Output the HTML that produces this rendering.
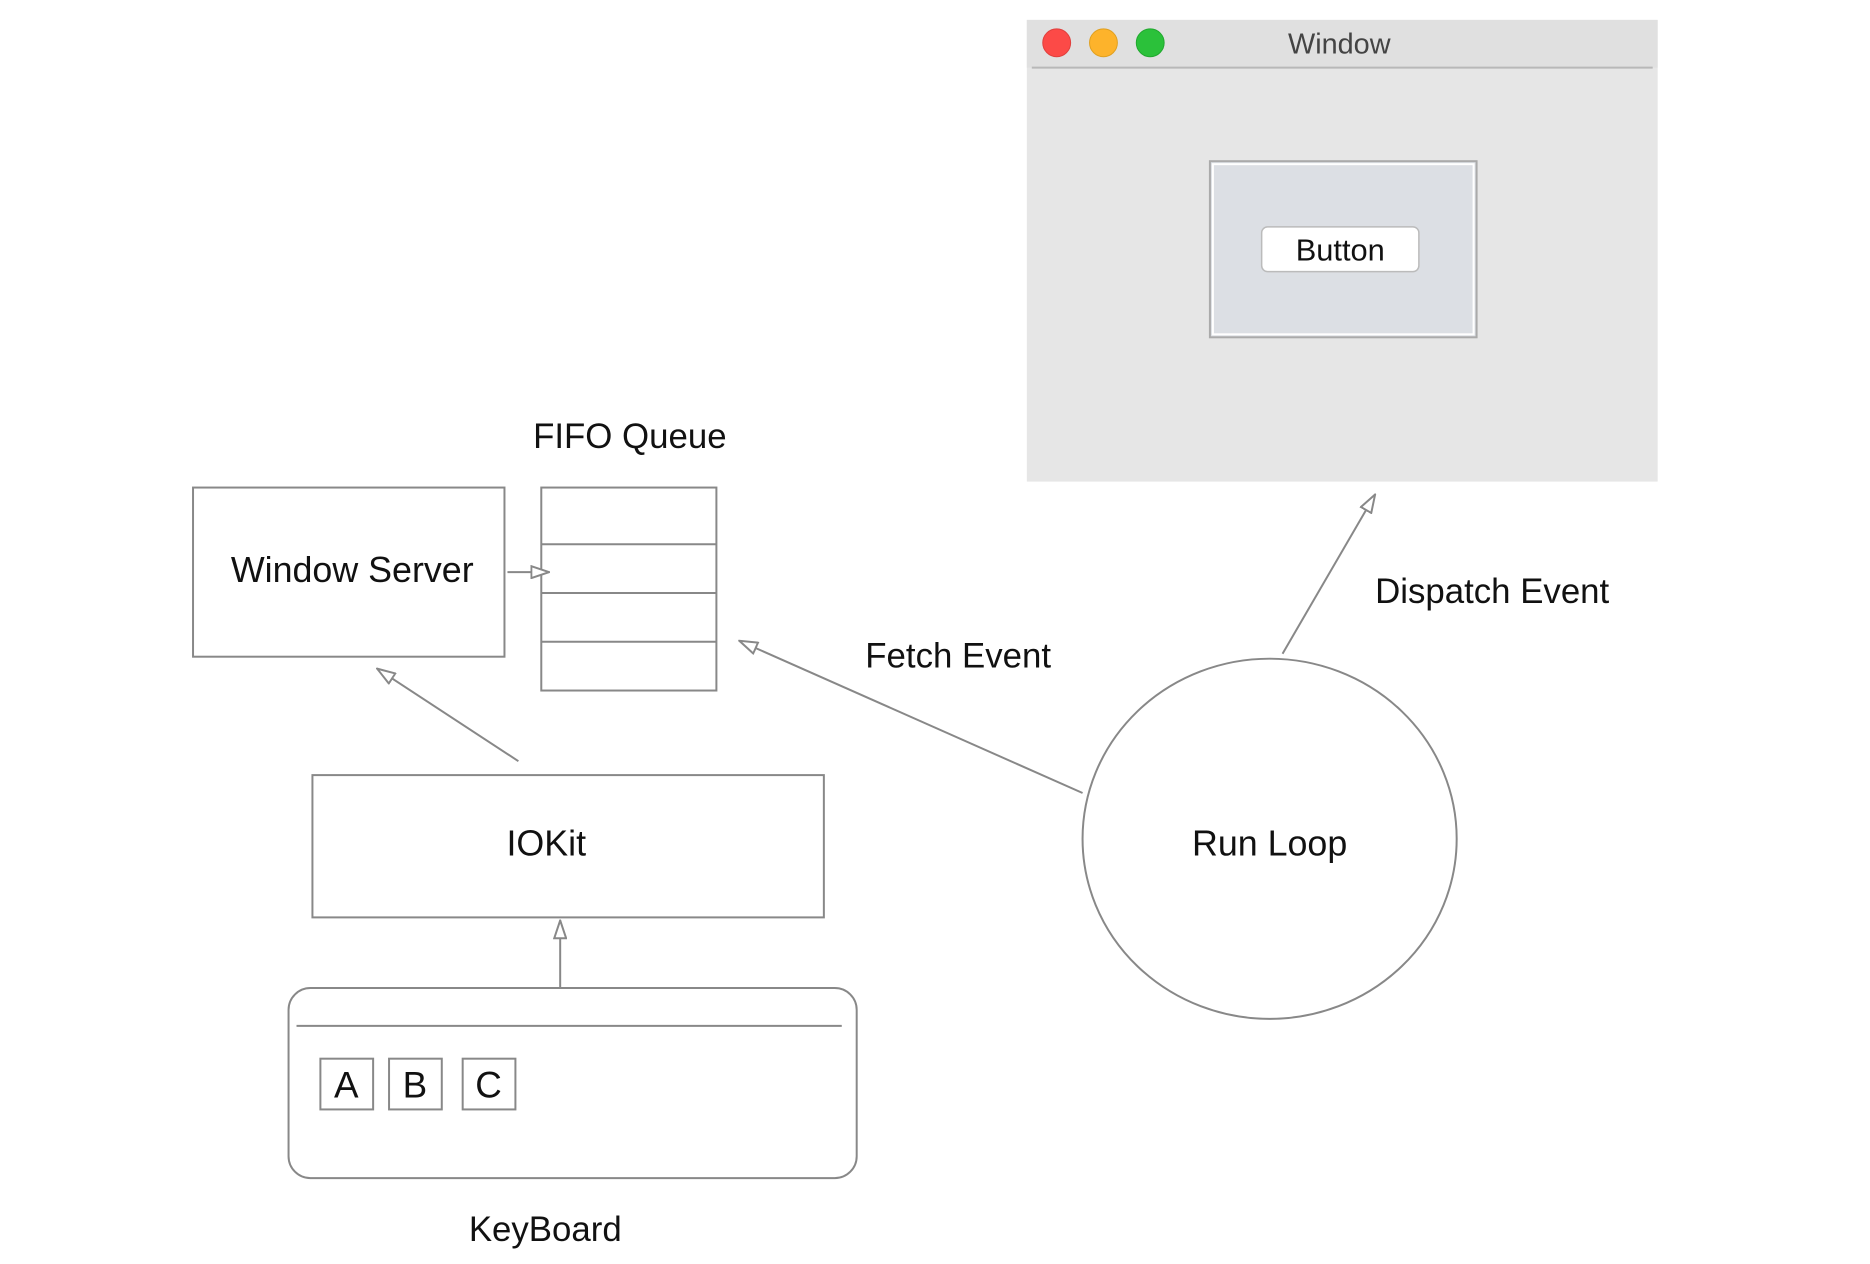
<!DOCTYPE html>
<html><head><meta charset="utf-8"><style>
html,body{margin:0;padding:0;background:#fff;}
svg{display:block;}
text{font-family:"Liberation Sans",Arial,sans-serif;fill:#111;}
</style></head><body>
<svg width="1870" height="1264" viewBox="0 0 1870 1264" xmlns="http://www.w3.org/2000/svg">
<defs>
<marker id="ah" viewBox="0 0 20 14" refX="19" refY="7" markerWidth="20" markerHeight="14" markerUnits="userSpaceOnUse" orient="auto">
<path d="M1,1 L19,7 L1,13 Z" fill="#fff" stroke="#888" stroke-width="2"/>
</marker>
</defs>
<g transform="scale(0.995)">
<!-- Window -->
<rect x="1032" y="20" width="634" height="464" fill="#e6e6e6"/>
<rect x="1032" y="20" width="634" height="48" fill="#e0e0e0"/>
<line x1="1037" y1="68" x2="1661" y2="68" stroke="#b8b8b8" stroke-width="2"/>
<ellipse cx="1062" cy="43" rx="14" ry="14" fill="#fc4a47" stroke="#e0403d"/>
<ellipse cx="1109" cy="43" rx="14" ry="14" fill="#fdb32b" stroke="#e0a020"/>
<ellipse cx="1156" cy="43" rx="14" ry="14" fill="#2bc13a" stroke="#20a82e"/>
<text x="1346" y="54" font-size="29" text-anchor="middle" style="fill:#444">Window</text>
<rect x="1216" y="162" width="268" height="177" fill="#dcdfe4" stroke="#aaa" stroke-width="2"/>
<rect x="1219" y="165" width="262" height="171" fill="none" stroke="#fff" stroke-width="2"/>
<rect x="1268" y="228" width="158" height="45" rx="6" fill="#fff" stroke="#bbb" stroke-width="1.5"/>
<text x="1347" y="262" font-size="31" text-anchor="middle">Button</text>

<!-- FIFO -->
<text x="633" y="450" font-size="35" text-anchor="middle">FIFO Queue</text>
<rect x="194" y="490" width="313" height="170" fill="none" stroke="#888" stroke-width="2"/>
<text x="354" y="585" font-size="36" text-anchor="middle">Window Server</text>
<rect x="544" y="490" width="176" height="204" fill="none" stroke="#888" stroke-width="2"/>
<line x1="544" y1="547" x2="720" y2="547" stroke="#888" stroke-width="2"/>
<line x1="544" y1="596" x2="720" y2="596" stroke="#888" stroke-width="2"/>
<line x1="544" y1="645" x2="720" y2="645" stroke="#888" stroke-width="2"/>
<line x1="510" y1="575" x2="552" y2="575" stroke="#888" stroke-width="2" marker-end="url(#ah)"/>

<!-- IOKit -->
<rect x="314" y="779" width="514" height="143" fill="none" stroke="#888" stroke-width="2"/>
<text x="549" y="860" font-size="36" text-anchor="middle">IOKit</text>
<line x1="521" y1="765" x2="379" y2="672" stroke="#888" stroke-width="2" marker-end="url(#ah)"/>

<!-- Keyboard -->
<rect x="290" y="993" width="571" height="191" rx="22" fill="none" stroke="#888" stroke-width="2"/>
<line x1="298" y1="1031" x2="846" y2="1031" stroke="#888" stroke-width="2"/>
<rect x="322" y="1064" width="53" height="51" fill="none" stroke="#888" stroke-width="2"/>
<rect x="391" y="1064" width="53" height="51" fill="none" stroke="#888" stroke-width="2"/>
<rect x="465" y="1064" width="53" height="51" fill="none" stroke="#888" stroke-width="2"/>
<text x="348" y="1103" font-size="37" text-anchor="middle">A</text>
<text x="417" y="1103" font-size="37" text-anchor="middle">B</text>
<text x="491" y="1103" font-size="37" text-anchor="middle">C</text>
<line x1="563" y1="992" x2="563" y2="925" stroke="#888" stroke-width="2" marker-end="url(#ah)"/>
<text x="548" y="1247" font-size="35" text-anchor="middle">KeyBoard</text>

<!-- Run Loop -->
<ellipse cx="1276" cy="843" rx="188" ry="181" fill="none" stroke="#888" stroke-width="2"/>
<text x="1276" y="860" font-size="36" text-anchor="middle">Run Loop</text>
<line x1="1088" y1="797" x2="743" y2="644" stroke="#888" stroke-width="2" marker-end="url(#ah)"/>
<text x="963" y="671" font-size="35" text-anchor="middle">Fetch Event</text>
<line x1="1289" y1="657" x2="1382" y2="497" stroke="#888" stroke-width="2" marker-end="url(#ah)"/>
<text x="1382" y="606" font-size="35">Dispatch Event</text>
</g>
</svg>
</body></html>
